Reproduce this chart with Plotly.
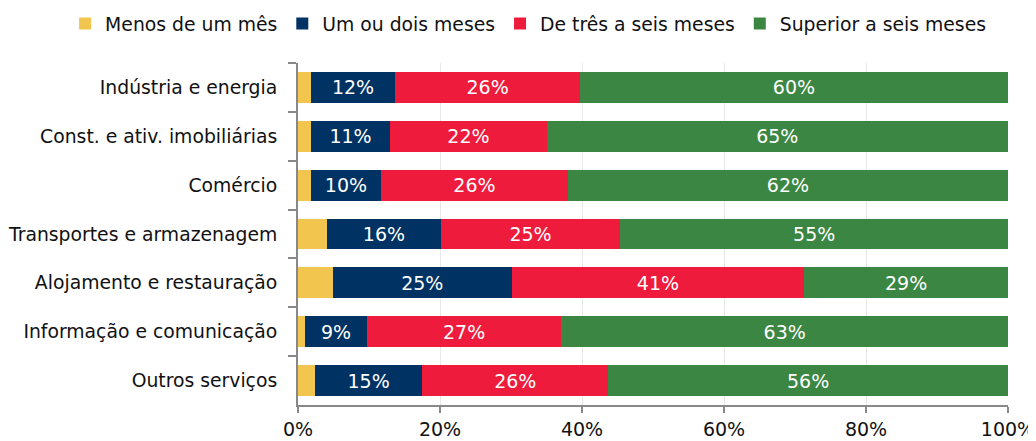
import plotly.graph_objects as go

categories = ["Indústria e energia", "Const. e ativ. imobiliárias", "Comércio",
              "Transportes e armazenagem", "Alojamento e restauração",
              "Informação e comunicação", "Outros serviços"]
series_names = ["Menos de um mês", "Um ou dois meses", "De três a seis meses", "Superior a seis meses"]
menos_um_mes = [1.8, 1.8, 1.8, 4.1, 4.9, 1.0, 2.4]
um_dois_meses = [11.9, 11.2, 9.9, 16.0, 25.2, 8.7, 15.1]
tres_seis_meses = [26.0, 22.0, 26.3, 25.3, 41.2, 27.4, 26.2]
superior_seis = [60.3, 65.0, 62.0, 54.6, 28.7, 62.9, 56.3]
tick_vals = [0, 20, 40, 60, 80, 100]
tick_text = ["0%", "20%", "40%", "60%", "80%", "100%"]

colors = ["#F2C54F", "#003263", "#EE1B3C", "#3B8642"]
values = [menos_um_mes, um_dois_meses, tres_seis_meses, superior_seis]
FONT = "DejaVu Sans"

fig = go.Figure()
for i, (name, vals, col) in enumerate(zip(series_names, values, colors)):
    show_text = i > 0
    fig.add_trace(go.Bar(
        y=categories, x=vals, name=name, orientation="h",
        marker=dict(color=col, line=dict(width=0)),
        text=[f"{round(v):.0f}%" for v in vals] if show_text else None,
        textposition="inside" if show_text else "none",
        insidetextanchor="middle",
        textfont=dict(color="white", size=19, family=FONT),
        hoverinfo="x+name",
    ))

fig.update_layout(
    barmode="stack",
    bargap=0.37,
    width=1028, height=433,
    margin=dict(l=290, r=28, t=55, b=36, autoexpand=False),
    paper_bgcolor="white", plot_bgcolor="white",
    font=dict(family=FONT, size=18.8, color="#111111"),
    uniformtext=dict(minsize=10, mode="show"),
    legend=dict(orientation="h", x=-0.328, xanchor="left",
                y=1.17, yanchor="top",
                font=dict(size=18.8, family=FONT),
                traceorder="normal", itemwidth=30, itemsizing="constant",
                tracegroupgap=0),
    xaxis=dict(range=[0, 100], tickvals=tick_vals, ticktext=tick_text,
               showgrid=True, gridcolor="#E8E8E8", gridwidth=1,
               showline=True, linecolor="#888888", linewidth=2,
               ticks="outside", tickcolor="#888888", ticklen=6, tickwidth=1.5,
               tickfont=dict(size=19, family=FONT), zeroline=False),
    yaxis=dict(autorange="reversed", showline=True, linecolor="#888888", linewidth=2,
               ticks="outside", tickson="boundaries", tickcolor="#888888",
               ticklen=8, tickwidth=1.5, ticklabelstandoff=15,
               tickfont=dict(size=18.8, family=FONT), showgrid=False),
)

fig.write_html("out.html")
